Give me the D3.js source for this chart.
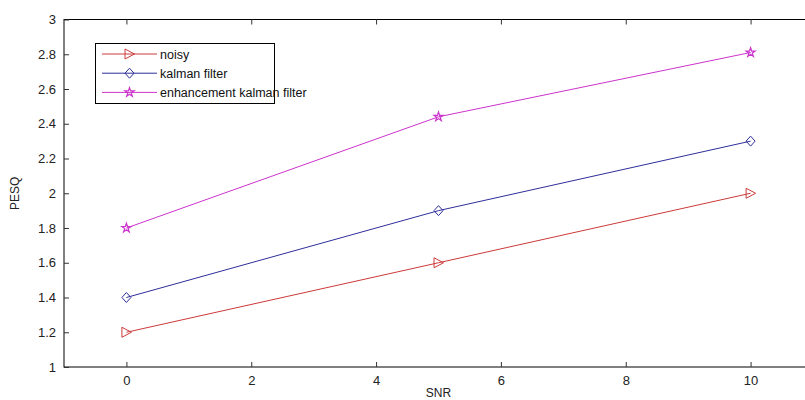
<!DOCTYPE html>
<html>
<head>
<meta charset="utf-8">
<script src="https://cdn.jsdelivr.net/npm/d3@7"></script>
<style>
  body { margin: 0; background: #fff; }
  svg { display: block; font-family: "Liberation Sans", Arial, sans-serif; }
</style>
</head>
<body>
<script>
const snr = [0, 5, 10];
const noisy = [1.2, 1.6, 2.0];
const kalman = [1.4, 1.9, 2.3];
const enhanced = [1.8, 2.44, 2.81];
const xTicks = [0, 2, 4, 6, 8, 10];
const yTicks = [1, 1.2, 1.4, 1.6, 1.8, 2, 2.2, 2.4, 2.6, 2.8, 3];
const seriesNames = ["noisy", "kalman filter", "enhancement kalman filter"];

const w = 805, h = 400;
const padL = 64, padR = 813, padT = 19.5, padB = 367;

const series = [
  { name: seriesNames[0], values: noisy, color: "#cc3a3a", marker: "tri" },
  { name: seriesNames[1], values: kalman, color: "#2e2e9a", marker: "dia" },
  { name: seriesNames[2], values: enhanced, color: "#cc33cc", marker: "star" }
];

const svg = d3.select("body").append("svg")
  .attr("width", w)
  .attr("height", h);

const x = d3.scaleLinear().domain([-1, 11]).range([padL, padR]);
const y = d3.scaleLinear().domain([1, 3]).range([padB, padT]);

// axes box (right side falls outside the window)
svg.append("rect")
  .attr("x", padL).attr("y", padT)
  .attr("width", padR - padL).attr("height", padB - padT)
  .attr("fill", "none").attr("stroke", "#000").attr("stroke-width", 1);

// inward ticks (MATLAB style)
const xAxis = d3.axisBottom(x).tickValues(xTicks).tickSize(-5).tickPadding(9).tickFormat(d3.format("d"));
const yAxis = d3.axisLeft(y).tickValues(yTicks).tickSize(-5).tickPadding(8).tickFormat(d => d3.format("")(d));

const gx = svg.append("g").attr("transform", "translate(0," + padB + ")").call(xAxis);
const gy = svg.append("g").attr("transform", "translate(" + padL + ",0)").call(yAxis);
svg.append("g").attr("transform", "translate(0," + padT + ")")
  .call(d3.axisTop(x).tickValues(xTicks).tickSize(-5).tickFormat(""));

[gx, gy].forEach(g => {
  g.selectAll("text").attr("font-size", 13).attr("fill", "#222")
    .attr("font-family", "'Liberation Sans', Arial, sans-serif");
});
svg.selectAll(".tick line").attr("stroke", "#333");
svg.selectAll(".domain").remove();

svg.append("text")
  .attr("x", x(5)).attr("y", 397)
  .attr("text-anchor", "middle")
  .attr("font-size", 12).attr("fill", "#222")
  .text("SNR");

svg.append("text")
  .attr("transform", "translate(19," + ((padT + padB) / 2) + ") rotate(-90)")
  .attr("text-anchor", "middle")
  .attr("font-size", 12).attr("fill", "#222")
  .text("PESQ");

const line = d3.line().x((d, i) => x(snr[i])).y(d => y(d));

function drawMarker(g, type, color, cx, cy) {
  if (type === "tri") {
    g.append("path")
      .attr("d", `M${cx - 4.5},${cy - 5}L${cx + 5},${cy}L${cx - 4.5},${cy + 5}Z`)
      .attr("fill", "none").attr("stroke", color).attr("stroke-width", 1);
  } else if (type === "dia") {
    g.append("path")
      .attr("d", `M${cx},${cy - 5}L${cx + 4.5},${cy}L${cx},${cy + 5}L${cx - 4.5},${cy}Z`)
      .attr("fill", "none").attr("stroke", color).attr("stroke-width", 1);
  } else {
    g.append("path")
      .attr("d", d3.symbol().type(d3.symbolStar).size(26)())
      .attr("transform", `translate(${cx},${cy})`)
      .attr("fill", "none").attr("stroke", color).attr("stroke-width", 1.2);
  }
}

series.forEach(s => {
  svg.append("path")
    .datum(s.values)
    .attr("d", line)
    .attr("fill", "none")
    .attr("stroke", s.color)
    .attr("stroke-width", 1);
  s.values.forEach((v, i) => drawMarker(svg, s.marker, s.color, x(snr[i]), y(v)));
});

// legend
const legend = svg.append("g");
legend.append("rect")
  .attr("x", 95.5).attr("y", 43.5)
  .attr("width", 179).attr("height", 60)
  .attr("fill", "#fff").attr("stroke", "#000").attr("stroke-width", 1);

series.forEach((s, i) => {
  const ly = 54 + i * 19.2;
  legend.append("line")
    .attr("x1", 102).attr("x2", 157)
    .attr("y1", ly).attr("y2", ly)
    .attr("stroke", s.color).attr("stroke-width", 1);
  drawMarker(legend, s.marker, s.color, 129.5, ly);
  legend.append("text")
    .attr("x", 160).attr("y", ly + 4.5)
    .attr("font-size", 12.5).attr("fill", "#111")
    .text(s.name);
});
</script>
</body>
</html>
